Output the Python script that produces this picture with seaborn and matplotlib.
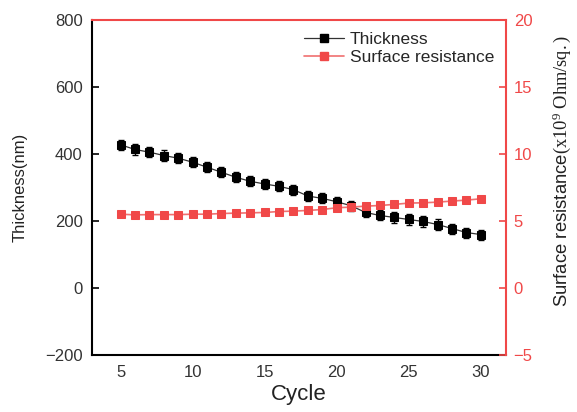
import numpy as np
import pandas as pd
import matplotlib
matplotlib.use("Agg")
import matplotlib.pyplot as plt
import seaborn as sns
from matplotlib.lines import Line2D

cycles = list(range(5, 31))
thickness = [428, 414, 406, 396, 388, 376, 361, 346, 331, 319, 311, 304, 294,
             275, 268, 258, 246, 226, 217, 211, 205, 199, 190, 178, 166, 160]
thickness_err = [15] * 26
resistance = [5.52, 5.47, 5.49, 5.49, 5.49, 5.52, 5.52, 5.57, 5.60, 5.62, 5.65, 5.72, 5.75,
              5.80, 5.87, 6.00, 6.05, 6.12, 6.17, 6.25, 6.35, 6.37, 6.42, 6.50, 6.57, 6.67]

sns.set_style("white")
plt.rcParams['font.family'] = ['Liberation Sans', 'DejaVu Sans']
plt.rcParams['mathtext.fontset'] = 'custom'
plt.rcParams['mathtext.rm'] = 'Liberation Serif'
plt.rcParams['mathtext.it'] = 'Liberation Serif:italic'

df = pd.DataFrame({"Cycle": cycles, "Thickness": thickness,
                   "err": thickness_err, "Resistance": resistance})

fig = plt.figure(figsize=(5.77, 4.12), dpi=100)
ax = fig.add_axes([0.159, 0.138, 0.718, 0.813])
ax2 = ax.twinx()

red = "#f04848"
sns.lineplot(data=df, x="Cycle", y="Thickness", ax=ax, color="#333333",
             linewidth=0.9, marker="s", markersize=6.2, markerfacecolor="black",
             markeredgecolor="black", zorder=4)
ax.errorbar(df["Cycle"], df["Thickness"], yerr=df["err"], fmt="none",
            ecolor="black", elinewidth=1, capsize=2.5, capthick=1, zorder=5)
sns.lineplot(data=df, x="Cycle", y="Resistance", ax=ax2, color="#f07070",
             linewidth=1.2, marker="s", markersize=6, markerfacecolor=red,
             markeredgecolor=red, zorder=4)

ax.set_xlim(3, 31.75)
ax.set_ylim(-200, 800)
ax2.set_ylim(-5, 20)
ax.set_xticks([5, 10, 15, 20, 25, 30])
ax.set_yticks([-200, 0, 200, 400, 600, 800])
ax2.set_yticks([-5, 0, 5, 10, 15, 20])

ax.set_xlabel("Cycle", fontsize=16, color="#222222", labelpad=3)
ax.set_ylabel("Thickness(nm)", fontsize=12, color="#222222")
ax.yaxis.set_label_coords(-0.155, 0.5)
ax2.set_ylabel(r"Surface resistance$\mathrm{(x10^9\ Ohm/sq.)}$", fontsize=13.3,
               color="#222222")
ax2.yaxis.set_label_coords(1.108, 0.55)

ax.tick_params(axis="x", direction="in", length=5, width=1.2, pad=7,
               labelsize=12, labelcolor="#333333", color="black")
ax.tick_params(axis="y", direction="in", length=5, width=1.2, pad=6.5,
               labelsize=12, labelcolor="#333333", color="black", right=False)
ax2.tick_params(axis="y", direction="in", length=5, width=1.2, labelsize=12, pad=5.5,
                labelcolor=red, color=red)

for s in ["left", "bottom"]:
    ax.spines[s].set_color("black")
    ax.spines[s].set_linewidth(1.5)
for s in ["right", "top"]:
    ax2.spines[s].set_color(red)
    ax2.spines[s].set_linewidth(1.5)
ax2.spines["left"].set_visible(False)
ax2.spines["bottom"].set_visible(False)
ax.spines["right"].set_visible(False)
ax.spines["top"].set_visible(False)

handles = [Line2D([], [], color="#333333", lw=0.9, marker="s", markersize=5.5,
                  markerfacecolor="black", markeredgecolor="black"),
           Line2D([], [], color="#f07070", lw=1.2, marker="s", markersize=5.5,
                  markerfacecolor=red, markeredgecolor=red)]
ax2.legend(handles, ["Thickness", "Surface resistance"], loc="upper right",
           bbox_to_anchor=(1.0, 1.0), frameon=False, fontsize=12.5,
           handlelength=2.3, handletextpad=0.3, labelspacing=0.15,
           borderaxespad=0.3)

fig.savefig("out.png", dpi=100)
